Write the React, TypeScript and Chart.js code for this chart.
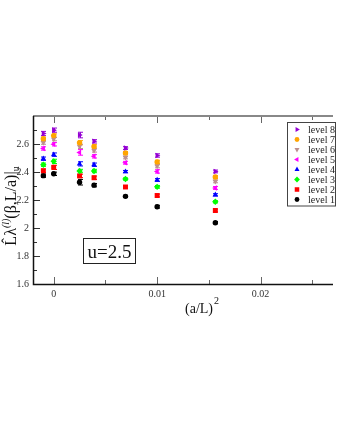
import React, { useEffect, useRef } from "react";
import { Chart, registerables } from "chart.js";

Chart.register(...registerables);

const xValues = [-0.001, 0, 0.0025, 0.0039, 0.00694, 0.01, 0.015625];

const level1 = [2.374, 2.387, 2.327, 2.306, 2.226, 2.152, 2.038];
const level2 = [2.409, 2.433, 2.372, 2.359, 2.293, 2.232, 2.125];
const level3 = [2.452, 2.476, 2.407, 2.407, 2.35, 2.294, 2.187];
const level4 = [2.495, 2.524, 2.458, 2.452, 2.403, 2.343, 2.237];
const level5 = [2.568, 2.598, 2.54, 2.512, 2.466, 2.404, 2.286];
const level6 = [2.61, 2.635, 2.583, 2.554, 2.504, 2.442, 2.333];
const level7 = [2.637, 2.66, 2.609, 2.583, 2.536, 2.472, 2.364];
const level8 = [2.675, 2.699, 2.664, 2.619, 2.571, 2.518, 2.404];

const err1 = [0.012, 0.012, 0.02, 0.012, 0.008, 0.01, 0.008];
const err2 = [0.012, 0.015, 0.012, 0.012, 0.008, 0.01, 0.01];
const err3 = [0.012, 0.015, 0.012, 0.012, 0.008, 0.01, 0.008];
const err4 = [0.012, 0.012, 0.015, 0.012, 0.008, 0.01, 0.008];
const err5 = [0.012, 0.012, 0.02, 0.012, 0.01, 0.012, 0.01];
const err6 = [0.012, 0.012, 0.015, 0.012, 0.01, 0.012, 0.01];
const err7 = [0.012, 0.012, 0.015, 0.012, 0.01, 0.012, 0.01];
const err8 = [0.015, 0.015, 0.02, 0.012, 0.01, 0.012, 0.01];

const seriesLabels = ["level 8", "level 7", "level 6", "level 5", "level 4", "level 3", "level 2", "level 1"];
const seriesValues = [level8, level7, level6, level5, level4, level3, level2, level1];
const seriesErrors = [err8, err7, err6, err5, err4, err3, err2, err1];
const seriesColors = ["#9400D3", "#FFA500", "#BC8F8F", "#FF00FF", "#0000FF", "#00FF00", "#FF0000", "#000000"];
const seriesStyles = ["triangle", "circle", "triangle", "triangle", "triangle", "rectRot", "rect", "circle"];
const seriesRotations = [90, 0, 180, 270, 0, 0, 0, 0];
const seriesRadii = [3.2, 2.7, 3.2, 3.2, 3.2, 3.2, 3.5, 2.7];

const xTicks = [0, 0.01, 0.02];
const yTicks = [1.6, 1.8, 2.0, 2.2, 2.4, 2.6];

const SERIF = "'Liberation Serif', 'DejaVu Serif', serif";

function drawMarker(ctx: CanvasRenderingContext2D, style: string, r: number, rot: number, x: number, y: number, color: string) {
  ctx.save();
  ctx.translate(x, y);
  ctx.rotate((rot * Math.PI) / 180);
  ctx.fillStyle = color;
  ctx.beginPath();
  if (style === "circle") {
    ctx.arc(0, 0, r, 0, Math.PI * 2);
  } else if (style === "triangle") {
    ctx.moveTo(0, -r);
    ctx.lineTo(r * 0.866, r * 0.5);
    ctx.lineTo(-r * 0.866, r * 0.5);
    ctx.closePath();
  } else if (style === "rect") {
    const s = r * Math.SQRT1_2;
    ctx.rect(-s, -s, 2 * s, 2 * s);
  } else if (style === "rectRot") {
    const s = r;
    ctx.moveTo(0, -s);
    ctx.lineTo(s, 0);
    ctx.lineTo(0, s);
    ctx.lineTo(-s, 0);
    ctx.closePath();
  }
  ctx.fill();
  ctx.restore();
}

const errorBarPlugin = {
  id: "errorBars",
  beforeDatasetsDraw(chart: any) {
    const ctx = chart.ctx;
    const ys = chart.scales.y;
    chart.data.datasets.forEach((ds: any, di: number) => {
      const meta = chart.getDatasetMeta(di);
      const errs = seriesErrors[di];
      ctx.save();
      ctx.strokeStyle = ds.borderColor;
      ctx.lineWidth = 1;
      meta.data.forEach((pt: any, i: number) => {
        const v = ds.data[i].y;
        const e = errs[i];
        const y1 = ys.getPixelForValue(v + e);
        const y2 = ys.getPixelForValue(v - e);
        const x = Math.round(pt.x) + 0.5;
        ctx.beginPath();
        ctx.moveTo(x, y1);
        ctx.lineTo(x, y2);
        ctx.moveTo(x - 2.5, y1);
        ctx.lineTo(x + 2.5, y1);
        ctx.moveTo(x - 2.5, y2);
        ctx.lineTo(x + 2.5, y2);
        ctx.stroke();
      });
      ctx.restore();
    });
  },
};

const framePlugin = {
  id: "frame",
  afterDraw(chart: any) {
    const ctx = chart.ctx;
    const { left, right, top, bottom } = chart.chartArea;
    const xs = chart.scales.x;
    const ys = chart.scales.y;
    ctx.save();
    // ticks
    ctx.lineWidth = 1;
    for (let k = 0; k <= 6; k++) {
      const v = k * 0.005;
      if (v > xs.max) break;
      const x = Math.round(xs.getPixelForValue(v)) + 0.5;
      const len = k % 2 === 0 ? 7 : 4;
      ctx.strokeStyle = "#666";
      ctx.beginPath();
      ctx.moveTo(x, bottom);
      ctx.lineTo(x, bottom - len);
      ctx.moveTo(x, top);
      ctx.lineTo(x, top + len);
      ctx.stroke();
    }
    for (let k = 0; k <= 12; k++) {
      const v = 1.6 + k * 0.1;
      const y = Math.round(ys.getPixelForValue(v)) + 0.5;
      const len = k % 2 === 0 ? 7 : 4;
      ctx.strokeStyle = "#333";
      ctx.beginPath();
      ctx.moveTo(left, y);
      ctx.lineTo(left + len, y);
      ctx.stroke();
    }
    // top line
    ctx.strokeStyle = "#888";
    ctx.lineWidth = 2;
    ctx.beginPath();
    ctx.moveTo(left, top);
    ctx.lineTo(right, top);
    ctx.stroke();
    // left & bottom
    ctx.strokeStyle = "#111";
    ctx.lineWidth = 1.5;
    ctx.beginPath();
    ctx.moveTo(left + 0.5, top);
    ctx.lineTo(left + 0.5, bottom + 0.5);
    ctx.lineTo(right, bottom + 0.5);
    ctx.stroke();

    // legend
    ctx.lineWidth = 1;
    ctx.strokeStyle = "#444";
    ctx.fillStyle = "#fff";
    ctx.fillRect(287.5, 122.5, 48, 83.5);
    ctx.strokeRect(287.5, 122.5, 48, 83.5);
    ctx.font = `10px ${SERIF}`;
    ctx.textBaseline = "middle";
    ctx.textAlign = "left";
    for (let i = 0; i < seriesLabels.length; i++) {
      const y = 129.5 + i * 10;
      drawMarker(ctx, seriesStyles[i], seriesRadii[i] - 0.3, seriesRotations[i], 297, y, seriesColors[i]);
      ctx.fillStyle = "#222";
      ctx.fillText(seriesLabels[i], 308, y + 0.5);
    }

    // u=2.5 box
    ctx.strokeStyle = "#222";
    ctx.lineWidth = 1;
    ctx.strokeRect(83.5, 238.5, 52, 25);
    ctx.fillStyle = "#111";
    ctx.font = `19px ${SERIF}`;
    ctx.textAlign = "center";
    ctx.textBaseline = "alphabetic";
    ctx.fillText("u=2.5", 109.5, 258);

    // x title
    ctx.textAlign = "left";
    ctx.font = `14px ${SERIF}`;
    ctx.fillText("(a/L)", 185, 313);
    ctx.font = `10px ${SERIF}`;
    ctx.fillText("2", 214, 304);

    // y title
    ctx.save();
    ctx.translate(16, 206);
    ctx.rotate(-Math.PI / 2);
    const segs = [
      { t: "L\u0302\u03BB", f: `16px ${SERIF}`, dy: 0 },
      { t: "(l)", f: `italic 10px ${SERIF}`, dy: -7 },
      { t: "(\u03B2,L/a)|", f: `16px ${SERIF}`, dy: 0 },
      { t: "u", f: `10px ${SERIF}`, dy: 3 },
    ];
    let total = 0;
    segs.forEach((s) => {
      ctx.font = s.f;
      total += ctx.measureText(s.t).width;
    });
    let cx = -total / 2;
    segs.forEach((s) => {
      ctx.font = s.f;
      ctx.fillText(s.t, cx, s.dy);
      cx += ctx.measureText(s.t).width;
    });
    ctx.restore();
    ctx.restore();
  },
};

export default function App() {
  const ref = useRef<HTMLCanvasElement>(null);
  useEffect(() => {
    if (!ref.current) return;
    const datasets = seriesLabels.map((label, i) => ({
      label,
      data: xValues.map((x, j) => ({ x, y: seriesValues[i][j] })),
      showLine: false,
      pointStyle: seriesStyles[i] as any,
      pointRotation: seriesRotations[i],
      pointRadius: seriesRadii[i],
      pointBackgroundColor: seriesColors[i],
      pointBorderColor: seriesColors[i],
      pointBorderWidth: 0,
      borderColor: seriesColors[i],
      backgroundColor: seriesColors[i],
    }));
    const chart = new Chart(ref.current, {
      type: "scatter",
      data: { datasets },
      options: {
        animation: false,
        responsive: false,
        layout: { padding: { top: 116, left: 0, right: 0, bottom: 132 } },
        plugins: { legend: { display: false }, tooltip: { enabled: false } },
        scales: {
          x: {
            type: "linear",
            min: -0.002,
            max: 0.027,
            grid: { display: false, drawTicks: false },
            border: { display: false },
            afterBuildTicks: (s: any) => {
              s.ticks = xTicks.map((v) => ({ value: v }));
            },
            afterFit: (s: any) => {
              s.height = 20;
            },
            ticks: {
              padding: 4,
              color: "#333",
              maxRotation: 0,
              font: { family: SERIF, size: 10 },
              callback: (v: any) => String(Math.round(Number(v) * 1000) / 1000),
            },
          },
          y: {
            type: "linear",
            min: 1.6,
            max: 2.8,
            grid: { display: false, drawTicks: false },
            border: { display: false },
            afterBuildTicks: (s: any) => {
              s.ticks = yTicks.map((v) => ({ value: v }));
            },
            afterFit: (s: any) => {
              s.width = 33;
            },
            ticks: {
              padding: 4,
              color: "#333",
              font: { family: SERIF, size: 10 },
              callback: (v: any) => String(Math.round(Number(v) * 10) / 10),
            },
          },
        },
      },
      plugins: [errorBarPlugin, framePlugin],
    });
    return () => chart.destroy();
  }, []);
  return (
    <div style={{ position: "absolute", left: 0, top: 0, width: 337, height: 436, background: "#fff" }}>
      <canvas ref={ref} width={337} height={436} />
    </div>
  );
}
